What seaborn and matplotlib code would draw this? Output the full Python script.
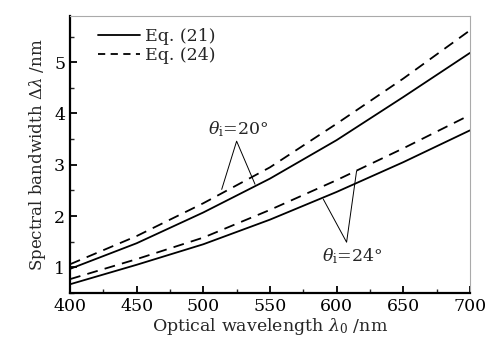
import matplotlib
matplotlib.use("Agg")
import matplotlib.pyplot as plt
import seaborn as sns
import pandas as pd
from matplotlib.lines import Line2D

wavelength = [400, 450, 500, 550, 600, 650, 700]
eq21_theta20 = [0.97, 1.47, 2.07, 2.73, 3.48, 4.32, 5.18]
eq24_theta20 = [1.06, 1.61, 2.25, 2.95, 3.80, 4.68, 5.62]
eq21_theta24 = [0.67, 1.05, 1.45, 1.93, 2.47, 3.05, 3.67]
eq24_theta24 = [0.77, 1.16, 1.58, 2.12, 2.70, 3.32, 3.97]

x_ticks = [400, 450, 500, 550, 600, 650, 700]
y_ticks = [1, 2, 3, 4, 5]

sns.set_theme(style="ticks")
plt.rcParams['font.family'] = ['DejaVu Serif']
plt.rcParams['mathtext.fontset'] = 'dejavuserif'

fig = plt.figure(figsize=(4.91, 3.41), dpi=100)
ax = fig.add_axes([0.1426, 0.1408, 0.8144, 0.8122])

series = [
    (eq21_theta20, "-"), (eq24_theta20, "--"),
    (eq21_theta24, "-"), (eq24_theta24, "--"),
]
for vals, ls in series:
    df = pd.DataFrame({"x": wavelength, "y": vals})
    line_ax = sns.lineplot(data=df, x="x", y="y", ax=ax, color="black", linewidth=1.3)
    if ls == "--":
        line_ax.lines[-1].set_dashes((6, 4))

ax.set_xlim(400, 700)
ax.set_ylim(0.5, 5.9)
ax.set_xticks(x_ticks)
ax.set_yticks(y_ticks)
ax.set_xticks([425, 475, 525, 575, 625, 675], minor=True)
ax.set_yticks([0.5, 1.5, 2.5, 3.5, 4.5, 5.5], minor=True)
ax.tick_params(axis="both", which="major", direction="in", length=5, width=1.3,
               labelsize=12.5, colors="black", top=False, right=False)
ax.tick_params(axis="both", which="minor", direction="in", length=3, width=1.0,
               top=False, right=False)
for s in ["left", "bottom"]:
    ax.spines[s].set_linewidth(1.6)
    ax.spines[s].set_color("black")
for s in ["top", "right"]:
    ax.spines[s].set_linewidth(0.8)
    ax.spines[s].set_color("#aaaaaa")

ax.set_xlabel(r"Optical wavelength $\lambda_0$ /nm", fontsize=12.5, labelpad=1)
ax.set_ylabel(r"Spectral bandwidth $\Delta\lambda$ /nm", fontsize=12, labelpad=4)

handles = [Line2D([], [], color="black", lw=1.3, ls="-"),
           Line2D([], [], color="black", lw=1.3, ls=(0, (4, 3)))]
ax.legend(handles, ["Eq. (21)", "Eq. (24)"], loc="upper left", frameon=False,
          fontsize=12.5, handlelength=2.4, handletextpad=0.3, labelspacing=0.1,
          borderaxespad=0.3, bbox_to_anchor=(0.04, 1.0))

# annotations
ax.plot([513.8, 525, 538.8], [2.52, 3.46, 2.62], color="black", lw=0.7)
ax.text(526, 3.5, r"$\theta_{\rm i}$=20°", ha="center", va="bottom", fontsize=12.5)
ax.plot([590, 607.5, 615], [2.33, 1.49, 2.88], color="black", lw=0.7)
ax.text(612, 1.42, r"$\theta_{\rm i}$=24°", ha="center", va="top", fontsize=12.5)

fig.savefig("out.png", dpi=100)
